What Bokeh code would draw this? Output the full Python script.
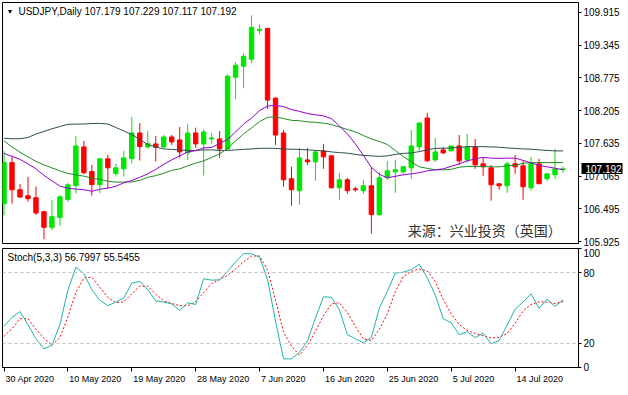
from bokeh.plotting import figure
from bokeh.models import (Range1d, FixedTicker, Label, Span, ColumnDataSource,
                          PrintfTickFormatter, LinearAxis)
from bokeh.layouts import column
from bokeh.embed import file_html
from bokeh.resources import INLINE

# ---------------- data ----------------
symbol_title = "USDJPY,Daily  107.179 107.229 107.117 107.192"
stoch_title = "Stoch(5,3,3) 56.7997 55.5455"
watermark = "来源：兴业投资（英国）"

date_tick_index = [0, 8, 16, 24, 32, 40, 48, 56, 64]
date_tick_labels = ["30 Apr 2020", "10 May 2020", "19 May 2020", "28 May 2020", "7 Jun 2020",
                    "16 Jun 2020", "25 Jun 2020", "5 Jul 2020", "14 Jul 2020"]
price_ticks = [105.925, 106.495, 107.065, 107.635, 108.205, 108.775, 109.345, 109.915]
stoch_ticks = [0, 20, 80, 100]
stoch_levels = [20, 80]

opens = [106.584, 107.300, 106.827, 106.723, 106.688, 106.445, 106.173, 106.346, 106.659, 106.900,
         107.573, 107.144, 106.914, 107.365, 107.110, 107.191, 107.370, 107.816, 107.573, 107.625,
         107.573, 107.746, 107.694, 107.469, 107.816, 107.625, 107.712, 107.712, 107.538, 108.787,
         108.978, 109.100, 109.603, 109.637, 108.423, 107.816, 107.018, 106.810, 107.347, 107.313,
         107.503, 107.417, 106.862, 107.000, 106.844, 106.810, 106.896, 106.393, 107.035, 107.139,
         107.139, 107.209, 107.573, 108.076, 107.347, 107.521, 107.503, 107.590, 107.347, 107.573,
         107.278, 107.209, 106.931, 106.896, 107.278, 107.243, 106.862, 107.278, 107.018, 107.087,
         107.179]
highs = [107.504, 107.405, 106.930, 107.052, 106.884, 106.460, 106.653, 106.728, 106.943, 107.764,
         107.677, 107.260, 107.380, 107.434, 107.278, 107.503, 108.093, 107.990, 107.850, 107.764,
         107.781, 107.781, 107.920, 107.972, 107.908, 107.885, 107.816, 107.850, 108.839, 109.048,
         109.204, 109.863, 109.707, 109.650, 108.430, 107.868, 107.226, 107.556, 107.556, 107.521,
         107.625, 107.434, 107.122, 107.035, 106.879, 107.000, 107.226, 107.139, 107.330, 107.347,
         107.240, 107.868, 107.990, 108.163, 107.729, 107.573, 107.590, 107.781, 107.798, 107.712,
         107.382, 107.260, 106.931, 107.313, 107.434, 107.330, 107.400, 107.365, 107.104, 107.538,
         107.229]
lows = [106.381, 106.584, 106.683, 106.619, 106.388, 105.965, 106.121, 106.202, 106.613, 106.763,
        107.104, 106.723, 106.766, 106.850, 107.058, 107.058, 107.283, 107.335, 107.538, 107.318,
        107.550, 107.608, 107.382, 107.347, 107.555, 107.075, 107.625, 107.382, 107.521, 108.406,
        108.596, 109.030, 109.533, 108.232, 107.608, 106.879, 106.550, 106.567, 107.260, 106.983,
        107.191, 106.844, 106.653, 106.757, 106.792, 106.757, 106.064, 106.376, 107.000, 106.775,
        107.104, 107.018, 107.503, 107.313, 107.313, 107.451, 107.503, 107.260, 107.295, 107.191,
        107.070, 106.636, 106.827, 106.775, 107.104, 106.653, 106.810, 106.931, 106.983, 107.018,
        107.117]
closes = [107.300, 106.827, 106.700, 106.671, 106.423, 106.173, 106.358, 106.705, 106.914, 107.590,
          107.122, 106.919, 107.365, 107.209, 107.209, 107.382, 107.816, 107.578, 107.630, 107.568,
          107.746, 107.660, 107.486, 107.816, 107.625, 107.833, 107.729, 107.538, 108.805, 108.995,
          109.152, 109.655, 109.620, 108.388, 107.781, 107.000, 106.827, 107.382, 107.313, 107.486,
          107.400, 106.862, 107.000, 106.810, 106.827, 106.896, 106.393, 107.035, 107.156, 107.174,
          107.226, 107.590, 107.990, 107.330, 107.486, 107.469, 107.590, 107.330, 107.573, 107.260,
          107.226, 106.914, 106.896, 107.278, 107.226, 106.879, 107.278, 106.931, 107.104, 107.191,
          107.192]

ma_fast = [107.460, 107.408, 107.356, 107.278, 107.191, 107.078, 106.983, 106.891, 106.853, 106.839,
           106.827, 106.801, 106.836, 106.856, 106.888, 106.948, 106.988, 107.043, 107.104, 107.183,
           107.269, 107.347, 107.417, 107.486, 107.507, 107.556, 107.564, 107.634, 107.703, 107.833,
           107.972, 108.076, 108.206, 108.284, 108.296, 108.275, 108.223, 108.192, 108.154, 108.132,
           108.114, 108.067, 107.937, 107.798, 107.625, 107.425, 107.217, 107.096, 107.035, 107.061,
           107.087, 107.104, 107.125, 107.156, 107.174, 107.191, 107.235, 107.278, 107.330, 107.365,
           107.391, 107.377, 107.373, 107.377, 107.377, 107.339, 107.295, 107.252, 107.226, 107.203,
           107.174]
ma_mid = [107.677, 107.573, 107.481, 107.399, 107.321, 107.260, 107.208, 107.156, 107.111, 107.087,
          107.064, 107.029, 107.009, 106.974, 106.960, 106.960, 106.965, 106.991, 107.043, 107.073,
          107.113, 107.165, 107.191, 107.243, 107.290, 107.330, 107.391, 107.452, 107.547, 107.677,
          107.798, 107.902, 108.015, 108.088, 108.097, 108.067, 108.036, 108.029, 108.010, 108.001,
          107.986, 107.963, 107.920, 107.876, 107.833, 107.772, 107.712, 107.668, 107.616, 107.512,
          107.408, 107.313, 107.226, 107.200, 107.174, 107.174, 107.182, 107.220, 107.231, 107.231,
          107.231, 107.226, 107.226, 107.243, 107.252, 107.287, 107.299, 107.300, 107.300, 107.300,
          107.300]
ma_slow = [107.724, 107.715, 107.715, 107.738, 107.798, 107.842, 107.889, 107.928, 107.967, 107.970,
           107.972, 107.980, 107.984, 107.972, 107.911, 107.850, 107.790, 107.703, 107.616, 107.573,
           107.538, 107.530, 107.521, 107.512, 107.512, 107.521, 107.521, 107.512, 107.512, 107.521,
           107.530, 107.538, 107.547, 107.550, 107.547, 107.538, 107.533, 107.530, 107.521, 107.512,
           107.504, 107.486, 107.474, 107.464, 107.443, 107.425, 107.417, 107.408, 107.417, 107.443,
           107.460, 107.469, 107.491, 107.521, 107.547, 107.550, 107.556, 107.564, 107.578, 107.578,
           107.578, 107.573, 107.568, 107.556, 107.547, 107.538, 107.533, 107.521, 107.512, 107.504,
           107.504]

stoch_main = [34.5, 42, 47, 36, 24, 15.5, 18.5, 36, 65, 84.5,
              79, 65.5, 56.5, 52, 55, 58.5, 71, 72.5, 65.5, 56,
              55, 53.5, 48, 54.4, 53, 74.7, 73.5, 73.8, 81, 89,
              96, 95.8, 93, 74, 39, 7, 7, 12.5, 22, 41.5,
              59.5, 59, 48.5, 27.5, 24, 20.6, 25, 50, 64, 79.5,
              80.3, 82.5, 87, 75.5, 61, 41, 37.5, 27.5, 30, 25,
              28.7, 19.8, 22.5, 35.5, 49, 55, 62, 49.8, 57.5, 51.3,
              56.8]
stoch_signal = [26, 32.5, 41, 41, 32, 24.5, 18.5, 25, 42.5, 63,
                75.5, 76, 67.5, 59, 54.5, 55.2, 62, 68.5, 68.5, 61.7,
                56, 53.8, 52, 51.9, 55.2, 63, 70.6, 74, 77.6, 83.2,
                89, 94, 94, 82.3, 56.6, 29.6, 17.8, 10, 18.3, 30.4,
                43.3, 53.5, 54.5, 46, 34.5, 24, 22.5, 32, 45, 64,
                76.5, 81, 83, 81.2, 72.5, 57, 45, 36, 31, 28.5,
                26.6, 24.7, 25, 28.5, 37, 47.5, 53, 55.2, 55, 53.8,
                55.5]

# ---------------- style ----------------
FONT = "Liberation Sans"
BULL = "#00e600"
BEAR = "#ff0000"
W = 624
FRAME_W = 577
MAIN_FRAME_H = 241
STOCH_FRAME_H = 119
XLAB_SIZE = 9

# approximate advance widths (em) of Liberation Sans, used only to left-align date labels
CHAR_EM = {" ": 0.278, "A": 0.667, "M": 0.833, "J": 0.5, "p": 0.556, "r": 0.333,
           "a": 0.556, "y": 0.5, "u": 0.556, "n": 0.556, "l": 0.222}


def text_px(t, size):
    return sum(CHAR_EM.get(ch, 0.556) for ch in t) * size


idx = list(range(len(opens)))
src = ColumnDataSource(dict(
    x=idx, o=opens, h=highs, l=lows, c=closes,
    top=[max(a, b) for a, b in zip(opens, closes)],
    bot=[min(a, b) for a, b in zip(opens, closes)],
    col=[BULL if c >= o else BEAR for o, c in zip(opens, closes)],
))

xr = Range1d(-0.19, 71.94)
yr = Range1d(105.891, 110.088)
px_per_bar = FRAME_W / (xr.end - xr.start)
px_per_price = MAIN_FRAME_H / (yr.end - yr.start)

p = figure(width=W, height=2 + MAIN_FRAME_H + 5, x_range=xr, y_range=yr, output_backend="svg",
           toolbar_location=None, x_axis_location=None, y_axis_location="right",
           min_border_left=2, min_border_right=W - 2 - FRAME_W, min_border_top=2, min_border_bottom=5)
p.background_fill_color = "white"
p.border_fill_color = "white"
p.outline_line_color = "black"
p.outline_line_width = 1
p.grid.visible = False

p.segment(x0="x", y0="l", x1="x", y1="h", color="col", line_width=1, source=src)
p.vbar(x="x", width=0.55, top="top", bottom="bot", fill_color="col", line_color="col",
       line_width=1, source=src)

p.line(idx, ma_slow, line_color="#2f4f4f", line_width=1)
p.line(idx, ma_mid, line_color="#228b22", line_width=1)
p.line(idx, ma_fast, line_color="#9400d3", line_width=1)

ya = p.yaxis[0]
ya.ticker = FixedTicker(ticks=price_ticks)
ya.formatter = PrintfTickFormatter(format="%.3f")
ya.axis_line_color = "black"
ya.major_tick_out = 3
ya.major_tick_in = 0
ya.minor_tick_in = 0
ya.minor_tick_out = 0
ya.major_label_standoff = 2
ya.major_label_text_font = FONT
ya.major_label_text_font_size = "10px"
ya.major_label_text_color = "black"

# current price marker: second right axis with one tick at the last close;
# its (inward) thick tick is the black box and its label is drawn back over it
cur = LinearAxis(ticker=FixedTicker(ticks=[closes[-1]]), formatter=PrintfTickFormatter(format="%.3f"))
cur.axis_line_color = None
cur.major_tick_out = 0
cur.major_tick_in = 41
cur.major_tick_line_width = 11
cur.major_tick_line_color = "black"
cur.major_tick_line_cap = "butt"
cur.minor_tick_out = 0
cur.minor_tick_in = 0
cur.major_label_standoff = -37
cur.major_label_text_font = FONT
cur.major_label_text_font_size = "10px"
cur.major_label_text_color = "white"
p.add_layout(cur, "right")

p.add_layout(Label(x=xr.start + 4 / px_per_bar, y=yr.end - 9 / px_per_price, text="▼",
                   text_font=FONT, text_font_size="7px", text_baseline="middle",
                   text_color="black"))
p.add_layout(Label(x=xr.start + 16 / px_per_bar, y=yr.end - 9 / px_per_price, text=symbol_title,
                   text_font=FONT, text_font_size="10px", text_baseline="middle",
                   text_color="black"))
p.add_layout(Label(x=xr.start + 406 / px_per_bar, y=yr.start + 14 / px_per_price, text=watermark,
                   text_font="Noto Sans CJK SC", text_font_size="14px", text_baseline="middle",
                   text_color="#333333"))

# ---------------- stochastic ----------------
sr = Range1d(-0.3, 100.3)
s = figure(width=W, height=STOCH_FRAME_H + 20, x_range=xr, y_range=sr, output_backend="svg",
           toolbar_location=None, y_axis_location="right",
           min_border_left=2, min_border_right=W - 2 - FRAME_W, min_border_top=0, min_border_bottom=20)
s.background_fill_color = "white"
s.border_fill_color = "white"
s.outline_line_color = "black"
s.outline_line_width = 1
s.grid.visible = False

for lv in stoch_levels:
    s.add_layout(Span(location=lv, dimension="width", line_color="#c0c0c0",
                      line_dash="3 3", line_width=1))

s.line(idx, stoch_signal, line_color="#ff0000", line_width=1, line_dash="2 2")
s.line(idx, stoch_main, line_color="#20b2aa", line_width=1)

sy = s.yaxis[0]
sy.ticker = FixedTicker(ticks=stoch_ticks)
sy.axis_line_color = "black"
sy.major_tick_out = 3
sy.major_tick_in = 0
sy.minor_tick_out = 0
sy.minor_tick_in = 0
sy.major_label_standoff = 2
sy.major_label_text_font = FONT
sy.major_label_text_font_size = "10px"
sy.major_label_text_color = "black"

# date axis: tick marks (minor ticks) at the bars, labels start just right of each mark
label_pos = [i + (text_px(t, XLAB_SIZE) / 2 + 1.5) / px_per_bar
             for i, t in zip(date_tick_index, date_tick_labels)]
sx = s.xaxis[0]
sx.ticker = FixedTicker(ticks=label_pos, minor_ticks=date_tick_index)
sx.major_label_overrides = {pos: t for pos, t in zip(label_pos, date_tick_labels)}
sx.axis_line_color = "black"
sx.major_tick_line_color = None
sx.major_tick_out = 4
sx.major_tick_in = 0
sx.minor_tick_out = 4
sx.minor_tick_in = 0
sx.minor_tick_line_color = "black"
sx.major_label_standoff = 2
sx.major_label_text_font = FONT
sx.major_label_text_font_size = "%dpx" % XLAB_SIZE
sx.major_label_text_color = "black"

spx_per_val = STOCH_FRAME_H / (sr.end - sr.start)
s.add_layout(Label(x=xr.start + 5 / px_per_bar, y=sr.end - 9 / spx_per_val, text=stoch_title,
                   text_font=FONT, text_font_size="10px", text_baseline="middle",
                   text_color="black"))

layout = column(p, s, spacing=0)
open("out.html", "w").write(file_html(layout, INLINE))
